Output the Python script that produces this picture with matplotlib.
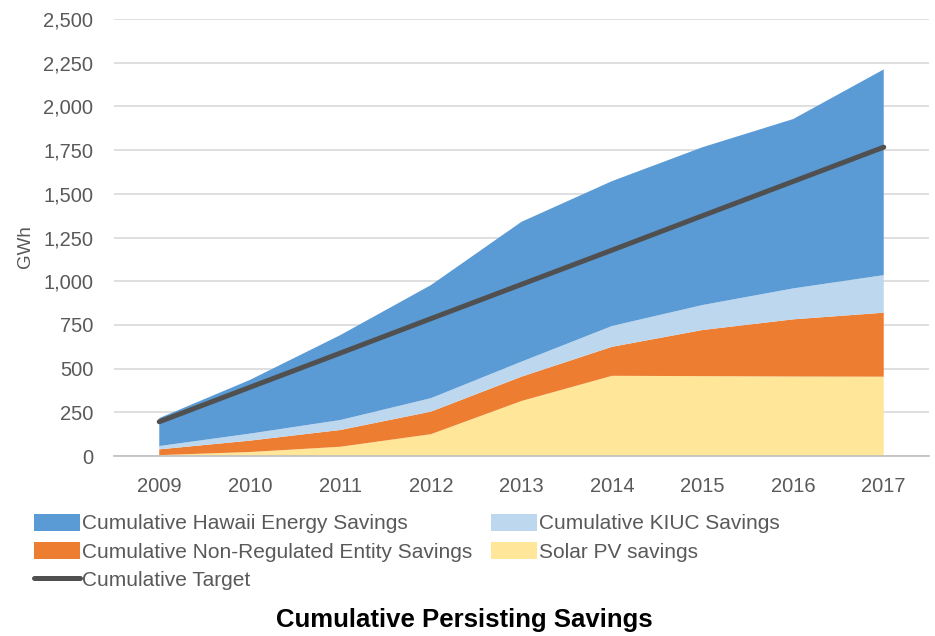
import numpy as np
import matplotlib.pyplot as plt
from matplotlib.ticker import FuncFormatter

plt.rcParams['font.family'] = ['Liberation Sans', 'DejaVu Sans']

years = ['2009', '2010', '2011', '2012', '2013', '2014', '2015', '2016', '2017']

# GWh per layer, stacked bottom to top
solar_pv = [5, 23, 53, 125, 315, 459, 457, 455, 454]
non_regulated = [33, 65, 96, 129, 139, 166, 264, 327, 366]
kiuc = [19, 40, 57, 77, 86, 119, 143, 177, 215]
hawaii_energy = [160, 307, 486, 647, 800, 829, 903, 969, 1177]
target = [196, 393, 589, 786, 982, 1178, 1375, 1571, 1767]

x = np.arange(len(years))

fig = plt.figure(figsize=(9.35, 6.36), dpi=100)
ax = fig.add_axes([0.1219, 0.283, 0.8717, 0.687])

stack = ax.stackplot(x, solar_pv, non_regulated, kiuc, hawaii_energy,
                     colors=['#FFE699', '#ED7D31', '#BDD7EE', '#5B9BD5'],
                     linewidth=0, zorder=2)
line, = ax.plot(x, target, color='#505050', linewidth=3.6,
                solid_capstyle='round', zorder=3)

ax.set_xlim(-0.5, len(years) - 0.5)
ax.set_ylim(0, 2500)
ax.set_yticks(np.arange(0, 2501, 250))
ax.yaxis.set_major_formatter(FuncFormatter(lambda v, p: f'{int(v):,}'))
ax.set_xticks(x)
ax.set_xticklabels(years)

ax.grid(axis='y', color='#D9D9D9', linewidth=1.2, zorder=0)
ax.set_axisbelow(True)
for side in ['top', 'right', 'left']:
    ax.spines[side].set_visible(False)
ax.spines['bottom'].set_color('#BFBFBF')
ax.spines['bottom'].set_linewidth(1.2)
ax.spines['bottom'].set_zorder(4)

ax.tick_params(axis='both', length=0, labelsize=14.5, colors='#595959')
ax.tick_params(axis='y', pad=15)
ax.tick_params(axis='x', pad=15)

fig.text(0.027, 0.612, 'GWh', rotation=90, fontsize=13.5, color='#595959',
         ha='center', va='center')

# legend: hawaii, non-regulated, target in first column; kiuc, solar in second
handles = [stack[3], stack[1], line, stack[2], stack[0]]
labels = ['Cumulative Hawaii Energy Savings',
          'Cumulative Non-Regulated Entity Savings',
          'Cumulative Target',
          'Cumulative KIUC Savings',
          'Solar PV savings']
fig.legend(handles, labels, ncol=2, loc='upper left',
           bbox_to_anchor=(0.0275, 0.205), frameon=False, fontsize=15,
           labelcolor='#595959', handlelength=2.2, handleheight=0.85,
           handletextpad=0.1, labelspacing=0.42, columnspacing=0.9,
           borderaxespad=0)

fig.text(0.497, 0.025, 'Cumulative Persisting Savings', fontsize=18.5,
         fontweight='bold', ha='center', va='center', color='black')

plt.savefig('out.png', dpi=100)
plt.close()
